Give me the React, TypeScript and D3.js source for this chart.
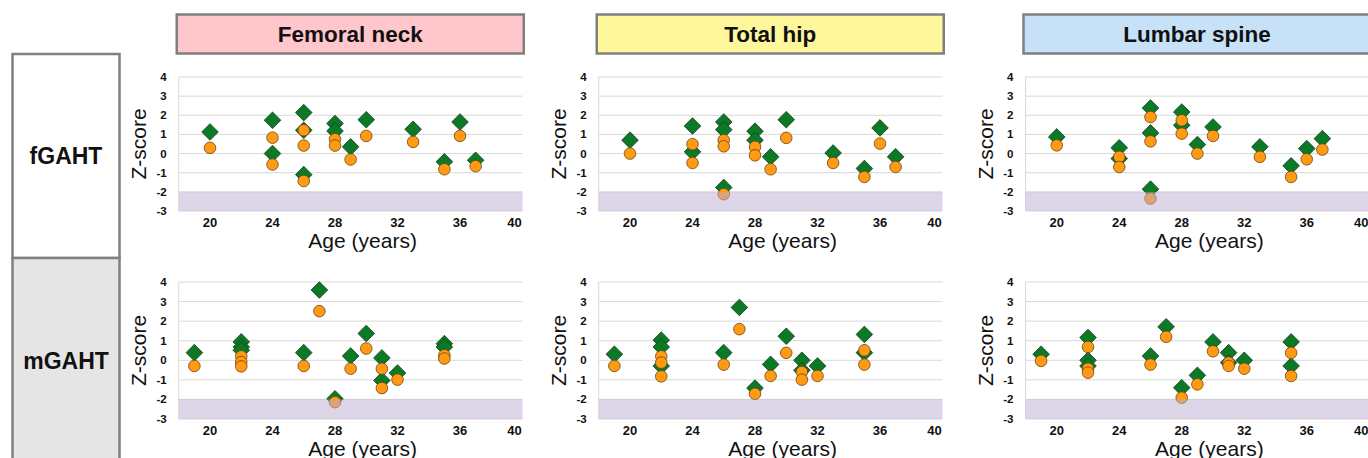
import React from "react";
import * as d3 from "d3";

// ---- data ----
const regions = ["Femoral neck", "Total hip", "Lumbar spine"];
const regionColors = ["#ffc7cc", "#fff79c", "#c6e1f8"];
const groups = ["fGAHT", "mGAHT"];
const groupFills = ["#ffffff", "#e5e5e5"];
const xTicks = [20, 24, 28, 32, 36, 40];
const yTicks = [4, 3, 2, 1, 0, -1, -2, -3];

const agesF = [20, 24, 24, 26, 26, 26, 28, 28, 29, 30, 33, 35, 36, 37];
const agesM = [19, 22, 22, 22, 26, 27, 28, 29, 30, 31, 31, 32, 35, 35];

// diamonds (green) and circles (orange) per subject
const fnF_D = [1.13, 1.74, 0.0, 2.14, 1.22, -1.1, 1.57, 1.18, 0.35, 1.77, 1.27, -0.43, 1.65, -0.35];
const fnF_C = [0.3, 0.83, -0.57, 1.22, 0.42, -1.43, 0.75, 0.42, -0.31, 0.92, 0.61, -0.82, 0.92, -0.66];
const thF_D = [0.7, 1.44, 0.09, 1.65, 1.25, -1.77, 1.17, 0.7, -0.17, 1.77, 0.03, -0.78, 1.34, -0.17];
const thF_C = [0.0, 0.49, -0.49, 0.7, 0.38, -2.12, 0.35, -0.09, -0.82, 0.82, -0.49, -1.22, 0.52, -0.7];
const lsF_D = [0.87, 0.3, -0.26, 2.38, 1.08, -1.86, 2.17, 1.48, 0.47, 1.39, 0.35, -0.64, 0.26, 0.78];
const lsF_C = [0.43, -0.17, -0.7, 1.91, 0.64, -2.35, 1.74, 1.04, 0.0, 0.92, -0.17, -1.22, -0.3, 0.21];

const fnM_D = [0.39, 0.94, 0.68, 0.51, 0.39, 3.59, -1.97, 0.22, 1.37, 0.12, -1.03, -0.65, 0.85, 0.68];
const fnM_C = [-0.29, 0.2, -0.09, -0.31, -0.29, 2.51, -2.14, -0.43, 0.6, -0.43, -1.42, -0.99, 0.26, 0.09];
const thM_D = [0.31, 1.03, 0.68, -0.29, 0.39, 2.7, -1.42, -0.21, 1.23, 0.0, -0.51, -0.29, 1.32, 0.39];
const thM_C = [-0.29, 0.2, -0.12, -0.82, -0.22, 1.59, -1.71, -0.8, 0.38, -0.6, -0.99, -0.8, 0.51, -0.22];
const lsM_D = [0.31, 1.16, 0.0, -0.29, 0.22, 1.71, -1.4, -0.77, 0.94, 0.39, -0.12, 0.0, 0.94, -0.29];
const lsM_C = [-0.03, 0.68, -0.43, -0.63, -0.22, 1.2, -1.91, -1.23, 0.46, -0.12, -0.29, -0.43, 0.38, -0.8];

const panelData = [
  [
    { ages: agesF, d: fnF_D, c: fnF_C },
    { ages: agesF, d: thF_D, c: thF_C },
    { ages: agesF, d: lsF_D, c: lsF_C },
  ],
  [
    { ages: agesM, d: fnM_D, c: fnM_C },
    { ages: agesM, d: thM_D, c: thM_C },
    { ages: agesM, d: lsM_D, c: lsM_C },
  ],
];

// ---- layout ----
const W = 1368;
const H = 458;
const colLeft = [178.75, 598.75, 1025.5];
const plotW = 343.75;
const rowTop = [77, 282];
const rowBottom = [211, 419];
const FONT = "Arial, 'Liberation Sans', Helvetica, sans-serif";

const diamondPath = d3.symbol(d3.symbolSquare, 138)() as string;

function Panel({ r, c }: { r: number; c: number }) {
  const x = d3.scaleLinear().domain([18, 40]).range([colLeft[c], colLeft[c] + plotW]);
  const y = d3.scaleLinear().domain([-3, 4]).range([rowBottom[r], rowTop[r]]);
  const data = panelData[r][c];
  const x0 = colLeft[c];
  const x1 = colLeft[c] + plotW;
  return (
    <g>
      {yTicks.map((t) => (
        <line key={"g" + t} x1={x0} x2={x1} y1={y(t)} y2={y(t)} stroke="#d9d9d9" strokeWidth={1} />
      ))}
      <line x1={x0} x2={x0} y1={y(4)} y2={y(-3)} stroke="#d9d9d9" strokeWidth={1} />
      {yTicks.map((t) => (
        <text
          key={"yt" + t}
          x={x0 - 12}
          y={y(t)}
          textAnchor="end"
          dominantBaseline="central"
          fontFamily={FONT}
          fontWeight="bold"
          fontSize={11.5}
          fill="#111"
        >
          {t}
        </text>
      ))}
      {xTicks.map((t) => (
        <text
          key={"xt" + t}
          x={t === 40 ? x(t) - 8 : x(t)}
          y={y(-3) + 11}
          textAnchor="middle"
          dominantBaseline="central"
          fontFamily={FONT}
          fontWeight="bold"
          fontSize={13}
          fill="#111"
        >
          {t}
        </text>
      ))}
      <text
        transform={`translate(${x0 - 40},${(y(4) + y(-3)) / 2}) rotate(-90)`}
        textAnchor="middle"
        dominantBaseline="central"
        fontFamily={FONT}
        fontSize={21}
        fill="#111"
      >
        Z-score
      </text>
      <text
        x={(x0 + x1) / 2 + 12}
        y={y(-3) + 29}
        textAnchor="middle"
        dominantBaseline="central"
        fontFamily={FONT}
        fontSize={21}
        fill="#111"
      >
        Age (years)
      </text>
      {data.d.map((v, i) => (
        <path
          key={"d" + i}
          d={diamondPath}
          transform={`translate(${x(data.ages[i])},${y(v)}) rotate(45)`}
          fill="#0b7a26"
          stroke="#1f3f1f"
          strokeWidth={0.8}
        />
      ))}
      {data.c.map((v, i) => (
        <circle
          key={"c" + i}
          cx={x(data.ages[i])}
          cy={y(v)}
          r={5.8}
          fill="#ff9a12"
          stroke="#6b4512"
          strokeWidth={0.8}
        />
      ))}
      <rect
        x={x0}
        y={y(-2)}
        width={plotW}
        height={y(-3) - y(-2)}
        fill="#bbadd3"
        fillOpacity={0.5}
      />
    </g>
  );
}

export default function App() {
  return (
    <svg
      width={W}
      height={H}
      style={{ position: "absolute", left: 0, top: 0, display: "block", background: "#fff" }}
    >
      <rect x={0} y={0} width={W} height={H} fill="#fff" />
      {/* row label boxes */}
      {groups.map((g, i) => {
        const top = i === 0 ? 54 : 258;
        const bottom = i === 0 ? 258 : 470;
        return (
          <g key={g}>
            <rect
              x={12.5}
              y={top}
              width={107}
              height={bottom - top}
              fill={groupFills[i]}
              stroke="#808080"
              strokeWidth={2.5}
            />
            <text
              x={66}
              y={i === 0 ? 164 : 369}
              textAnchor="middle"
              fontFamily={FONT}
              fontWeight="bold"
              fontSize={23}
              fill="#111"
            >
              {g}
            </text>
          </g>
        );
      })}
      {/* column headers */}
      {regions.map((reg, c) => (
        <g key={reg}>
          <rect
            x={colLeft[c] - 2}
            y={14.5}
            width={347}
            height={39}
            fill={regionColors[c]}
            stroke="#7f7f7f"
            strokeWidth={2.5}
          />
          <text
            x={colLeft[c] - 2 + 347 / 2}
            y={42}
            textAnchor="middle"
            fontFamily={FONT}
            fontWeight="bold"
            fontSize={22.5}
            fill="#111"
          >
            {reg}
          </text>
        </g>
      ))}
      {[0, 1].map((r) => [0, 1, 2].map((c) => <Panel key={`${r}-${c}`} r={r} c={c} />))}
    </svg>
  );
}
